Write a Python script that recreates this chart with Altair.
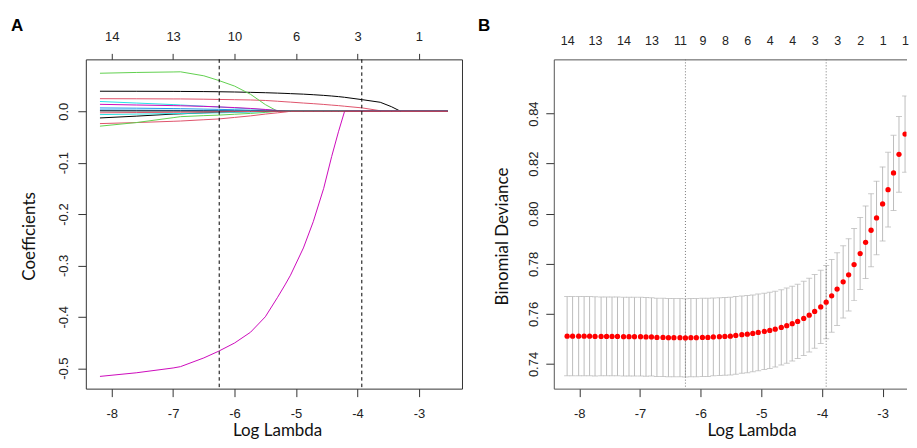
import altair as alt
import pandas as pd

# ---------------- Panel A: coefficient paths ----------------
log_lambda_path = [-8.19, -7.6, -7.0, -6.88, -6.5, -6.26, -6.0, -5.74, -5.5, -5.3, -5.18, -5.09,
                   -4.88, -4.72, -4.55, -4.42, -4.31, -4.21, -3.92, -3.63, -3.45, -3.3, -2.53]

coef_v01 = [0.0390, 0.0389, 0.0387, 0.0386, 0.0383, 0.0380, 0.0375, 0.0368, 0.0361, 0.0353, 0.0348, 0.0343,
            0.0333, 0.0322, 0.0309, 0.0297, 0.0285, 0.0272, 0.0225, 0.0175, 0.0090, 0.0, 0.0]
coef_v02 = [0.0245, 0.0243, 0.0240, 0.0240, 0.0235, 0.0230, 0.0225, 0.0220, 0.0210, 0.0195, 0.0185, 0.0178,
            0.0160, 0.0148, 0.0133, 0.0120, 0.0110, 0.0098, 0.0065, 0.0010, 0.0, 0.0, 0.0]
coef_v03 = [0.0740, 0.0755, 0.0765, 0.0768, 0.0690, 0.0600, 0.0490, 0.0330, 0.0130, 0.0, 0.0, 0.0,
            0.0, 0.0, 0.0, 0.0, 0.0, 0.0, 0.0, 0.0, 0.0, 0.0, 0.0]
coef_v04 = [0.0065, 0.0060, 0.0052, 0.0050, 0.0042, 0.0037, 0.0030, 0.0020, 0.0010, 0.0003, 0.0, 0.0,
            0.0, 0.0, 0.0, 0.0, 0.0, 0.0, 0.0, 0.0, 0.0, 0.0, 0.0]
coef_v05 = [0.0190, 0.0160, 0.0130, 0.0122, 0.0098, 0.0083, 0.0065, 0.0048, 0.0030, 0.0015, 0.0006, 0.0,
            0.0, 0.0, 0.0, 0.0, 0.0, 0.0, 0.0, 0.0, 0.0, 0.0, 0.0]
coef_v06 = [0.0135, 0.0122, 0.0110, 0.0107, 0.0095, 0.0085, 0.0072, 0.0055, 0.0035, 0.0015, 0.0005, 0.0,
            0.0, 0.0, 0.0, 0.0, 0.0, 0.0, 0.0, 0.0, 0.0, 0.0, 0.0]
coef_v07 = [-0.0130, -0.0095, -0.0055, -0.0050, -0.0030, -0.0020, -0.0012, -0.0006, -0.0002, 0.0, 0.0, 0.0,
            0.0, 0.0, 0.0, 0.0, 0.0, 0.0, 0.0, 0.0, 0.0, 0.0, 0.0]
coef_v08 = [-0.0240, -0.0220, -0.0195, -0.0190, -0.0165, -0.0150, -0.0120, -0.0090, -0.0055, -0.0030, -0.0015, 0.0,
            0.0, 0.0, 0.0, 0.0, 0.0, 0.0, 0.0, 0.0, 0.0, 0.0, 0.0]
coef_v09 = [-0.0290, -0.0220, -0.0125, -0.0105, -0.0085, -0.0075, -0.0058, -0.0042, -0.0022, 0.0, 0.0, 0.0,
            0.0, 0.0, 0.0, 0.0, 0.0, 0.0, 0.0, 0.0, 0.0, 0.0, 0.0]
coef_v10 = [0.0025, 0.0022, 0.0018, 0.0017, 0.0013, 0.0010, 0.0007, 0.0004, 0.0001, 0.0, 0.0, 0.0,
            0.0, 0.0, 0.0, 0.0, 0.0, 0.0, 0.0, 0.0, 0.0, 0.0, 0.0]
coef_v11 = [-0.0065, -0.0055, -0.0045, -0.0043, -0.0035, -0.0030, -0.0022, -0.0015, -0.0008, -0.0002, 0.0, 0.0,
            0.0, 0.0, 0.0, 0.0, 0.0, 0.0, 0.0, 0.0, 0.0, 0.0, 0.0]
coef_v12 = [-0.516, -0.509, -0.4996, -0.497, -0.480, -0.467, -0.451, -0.430, -0.400, -0.362, -0.338, -0.319,
            -0.266, -0.215, -0.150, -0.088, -0.040, 0.0, 0.0, 0.0, 0.0, 0.0, 0.0]
coef_v13 = [0.0008, 0.0007, 0.0006, 0.0005, 0.0004, 0.0003, 0.0002, 0.0001, 0.0, 0.0, 0.0, 0.0,
            0.0, 0.0, 0.0, 0.0, 0.0, 0.0, 0.0, 0.0, 0.0, 0.0, 0.0]
coef_v14 = [-0.0030, -0.0025, -0.0020, -0.0019, -0.0015, -0.0012, -0.0008, -0.0004, 0.0, 0.0, 0.0, 0.0,
            0.0, 0.0, 0.0, 0.0, 0.0, 0.0, 0.0, 0.0, 0.0, 0.0, 0.0]

variable_names = ["V01", "V02", "V03", "V04", "V05", "V06", "V07",
                  "V08", "V09", "V10", "V11", "V12", "V13", "V14"]
variable_colors = ["#000000", "#DF536B", "#61D04F", "#2297E6", "#28E2E5", "#CD0BBC", "#000000",
                   "#DF536B", "#61D04F", "#2297E6", "#28E2E5", "#CD0BBC", "#000000", "#DF536B"]
coef_series = [coef_v01, coef_v02, coef_v03, coef_v04, coef_v05, coef_v06, coef_v07,
               coef_v08, coef_v09, coef_v10, coef_v11, coef_v12, coef_v13, coef_v14]

a_top_ticks = [-8, -7, -6, -5, -4, -3]
a_top_labels = ["14", "13", "10", "6", "3", "1"]
a_y_ticks = [0.0, -0.1, -0.2, -0.3, -0.4, -0.5]

# ---------------- Panel B: cross-validation curve ----------------
log_lambda_cv = [-8.20, -8.11, -8.01, -7.92, -7.83, -7.74, -7.64, -7.55, -7.46, -7.37,
                 -7.27, -7.18, -7.09, -6.99, -6.90, -6.81, -6.72, -6.62, -6.53, -6.44,
                 -6.34, -6.25, -6.16, -6.07, -5.97, -5.88, -5.79, -5.69, -5.60, -5.51,
                 -5.42, -5.32, -5.23, -5.14, -5.05, -4.95, -4.86, -4.77, -4.67, -4.58,
                 -4.49, -4.40, -4.30, -4.21, -4.12, -4.02, -3.93, -3.84, -3.75, -3.65,
                 -3.56, -3.47, -3.37, -3.28, -3.19, -3.10, -3.00, -2.91, -2.82, -2.73,
                 -2.63, -2.54]
cv_deviance = [0.7511, 0.7511, 0.7511, 0.7511, 0.7511, 0.7510, 0.7510, 0.7510, 0.7510, 0.7510,
               0.7509, 0.7509, 0.7509, 0.7509, 0.7508, 0.7508, 0.7506, 0.7506, 0.7505, 0.7505,
               0.7505, 0.7504, 0.7505, 0.7505, 0.7506, 0.7506, 0.7508, 0.7509, 0.7510, 0.7511,
               0.7514, 0.7517, 0.7519, 0.7522, 0.7526, 0.7530, 0.7534, 0.7539, 0.7546, 0.7553,
               0.7561, 0.7570, 0.7582, 0.7595, 0.7610, 0.7628, 0.7647, 0.7672, 0.7699, 0.7728,
               0.7756, 0.7797, 0.7841, 0.7886, 0.7934, 0.7983, 0.8039, 0.8096, 0.8163, 0.8237,
               0.8318, 0.8398]
cv_se = [0.0158, 0.0158, 0.0158, 0.0158, 0.0158, 0.0158, 0.0157, 0.0157, 0.0157, 0.0157,
         0.0157, 0.0157, 0.0157, 0.0157, 0.0157, 0.0156, 0.0156, 0.0156, 0.0156, 0.0156,
         0.0156, 0.0156, 0.0156, 0.0156, 0.0156, 0.0156, 0.0155, 0.0155, 0.0155, 0.0155,
         0.0155, 0.0154, 0.0154, 0.0153, 0.0153, 0.0152, 0.0152, 0.0151, 0.0150, 0.0150,
         0.0149, 0.0148, 0.0148, 0.0147, 0.0147, 0.0146, 0.0146, 0.0145, 0.0145, 0.0144,
         0.0144, 0.0144, 0.0144, 0.0145, 0.0146, 0.0147, 0.0148, 0.0149, 0.0150, 0.0151,
         0.0152, 0.0153]
b_top_ticks = [-8.20, -7.74, -7.27, -6.81, -6.34, -5.97, -5.60, -5.23, -4.86, -4.49,
               -4.12, -3.75, -3.37, -3.00, -2.63]
b_top_labels = ["14", "13", "14", "13", "11", "9", "8", "6", "4", "4", "3", "3", "2", "1", "1"]
b_y_ticks = [0.74, 0.76, 0.78, 0.80, 0.82, 0.84]

selected_log_lambda = [-6.25, -3.93]
x_ticks = [-8, -7, -6, -5, -4, -3]

# ---------------- build tables ----------------
rows = []
for name, vals in zip(variable_names, coef_series):
    for xv, yv in zip(log_lambda_path, vals):
        rows.append({"loglam": xv, "coef": yv, "var": name})
df_path = pd.DataFrame(rows)

df_cv = pd.DataFrame({"loglam": log_lambda_cv, "dev": cv_deviance, "se": cv_se})
df_cv["lo"] = df_cv["dev"] - df_cv["se"]
df_cv["hi"] = df_cv["dev"] + df_cv["se"]
df_vl = pd.DataFrame({"loglam": selected_log_lambda})

MINUS_FIX = "replace(datum.label, '\u2212', '-')"


def label_lookup(ticks, labels):
    lab = ",".join("'%s'" % s for s in labels)
    tk = ",".join(repr(float(t)) for t in ticks)
    return "[%s][indexof([%s], datum.value)]" % (lab, tk)


W_A, W_B, H = 377, 353.5, 330
x_scale_a = alt.Scale(domain=[-8.42, -2.30], nice=False, zero=False)
x_scale_b = alt.Scale(domain=[-8.42, -2.606], nice=False, zero=False)
y_scale_a = alt.Scale(domain=[-0.5398, 0.1010], nice=False, zero=False)
y_scale_b = alt.Scale(domain=[0.73016, 0.86163], nice=False, zero=False)

FRAME_B = "#555555"

# ---- Panel A ----
lines_a = alt.Chart(df_path).mark_line(strokeWidth=1, clip=True).encode(
    x=alt.X("loglam:Q", scale=x_scale_a,
            axis=alt.Axis(orient="bottom", values=x_ticks, format="d", labelExpr=MINUS_FIX,
                          tickSize=8, labelPadding=20.5, labelBaseline="alphabetic",
                          title="Log Lambda", titleX=191.7, titleY=47, titleAlign="center",
                          titleBaseline="alphabetic")),
    y=alt.Y("coef:Q", scale=y_scale_a,
            axis=alt.Axis(values=a_y_ticks, format=".1f", labelExpr=MINUS_FIX,
                          labelAngle=270, labelAlign="center", labelBaseline="alphabetic",
                          tickSize=8, labelPadding=10.3,
                          title="Coefficients", titleAngle=270, titleX=-51.7, titleY=177,
                          titleAlign="center", titleBaseline="alphabetic")),
    color=alt.Color("var:N", scale=alt.Scale(domain=variable_names, range=variable_colors), legend=None),
)
vlines_a = alt.Chart(df_vl).mark_rule(color="#000000", strokeWidth=1, strokeDash=[3.5, 3]).encode(
    x=alt.X("loglam:Q", scale=x_scale_a,
            axis=alt.Axis(orient="top", values=a_top_ticks, labelExpr=label_lookup(a_top_ticks, a_top_labels),
                          tickSize=6, labelPadding=13, labelBaseline="alphabetic", title=None))
)
tag_a = alt.Chart(pd.DataFrame({"t": ["A"]})).mark_text(
    align="left", baseline="alphabetic", fontSize=17, fontWeight="bold", font="Liberation Sans", color="#000000"
).encode(x=alt.value(-75), y=alt.value(-28), text="t:N")

panel_a = alt.layer(lines_a, vlines_a, tag_a).resolve_axis(x="independent").properties(
    width=W_A, height=H, view=alt.ViewBackground(stroke="#333333", strokeWidth=1)
)

# ---- Panel B ----
y_axis_b = alt.Axis(values=b_y_ticks, format=".2f",
                    labelAngle=270, labelAlign="center", labelBaseline="alphabetic",
                    tickSize=8, labelPadding=8, domain=True, domainColor=FRAME_B,
                    title="Binomial Deviance", titleAngle=270, titleX=-46.5, titleY=177,
                    titleAlign="center", titleBaseline="alphabetic")

bars_b = alt.Chart(df_cv).mark_rule(color="#BDBDBD", strokeWidth=1, clip=True).encode(
    x=alt.X("loglam:Q", scale=x_scale_b, axis=None),
    y=alt.Y("lo:Q", scale=y_scale_b, axis=y_axis_b),
    y2="hi:Q",
)
caps_hi = alt.Chart(df_cv).mark_tick(orient="horizontal", size=6, thickness=1, color="#B5B5B5", clip=True).encode(
    x=alt.X("loglam:Q", scale=x_scale_b, axis=None),
    y=alt.Y("hi:Q", scale=y_scale_b, axis=y_axis_b),
)
caps_lo = alt.Chart(df_cv).mark_tick(orient="horizontal", size=6, thickness=1, color="#B5B5B5", clip=True).encode(
    x=alt.X("loglam:Q", scale=x_scale_b, axis=None),
    y=alt.Y("lo:Q", scale=y_scale_b, axis=y_axis_b),
)
dots_b = alt.Chart(df_cv).mark_circle(size=28, color="#FF0000", opacity=1, clip=True).encode(
    x=alt.X("loglam:Q", scale=x_scale_b,
            axis=alt.Axis(orient="bottom", values=x_ticks, format="d", labelExpr=MINUS_FIX,
                          tickSize=8, labelPadding=20.5, labelBaseline="alphabetic",
                          domain=True, domainColor=FRAME_B,
                          title="Log Lambda", titleX=198.2, titleY=47, titleAlign="center",
                          titleBaseline="alphabetic")),
    y=alt.Y("dev:Q", scale=y_scale_b, axis=y_axis_b),
)
vlines_b = alt.Chart(df_vl).mark_rule(color="#777777", strokeWidth=1, strokeDash=[1, 2]).encode(
    x=alt.X("loglam:Q", scale=x_scale_b,
            axis=alt.Axis(orient="top", values=b_top_ticks, labelExpr=label_lookup(b_top_ticks, b_top_labels),
                          ticks=False, tickSize=0, labelPadding=14.7, labelBaseline="alphabetic",
                          labelFontSize=12.5, domain=True, domainColor=FRAME_B, title=None))
)
tag_b = alt.Chart(pd.DataFrame({"t": ["B"]})).mark_text(
    align="left", baseline="alphabetic", fontSize=17, fontWeight="bold", font="Liberation Sans", color="#000000"
).encode(x=alt.value(-76), y=alt.value(-28), text="t:N")

panel_b = alt.layer(bars_b, caps_hi, caps_lo, vlines_b, dots_b, tag_b).resolve_axis(x="independent").properties(
    width=W_B, height=H, view=alt.ViewBackground(stroke=None)
)

chart = alt.hconcat(panel_a, panel_b, spacing=92, bounds="flush").properties(
    padding={"left": 2, "top": 8, "right": 0, "bottom": 0}
).configure_axis(
    labelFont="Liberation Sans", labelFontSize=13, labelColor="#222222",
    tickColor="#333333", tickWidth=1, domain=False, grid=False,
    titleFont="Lato", titleFontSize=17, titleFontWeight="normal", titleColor="#111111",
).configure_view(stroke="#333333")

chart.save("out.html", embed_options={"renderer": "svg", "actions": False})
